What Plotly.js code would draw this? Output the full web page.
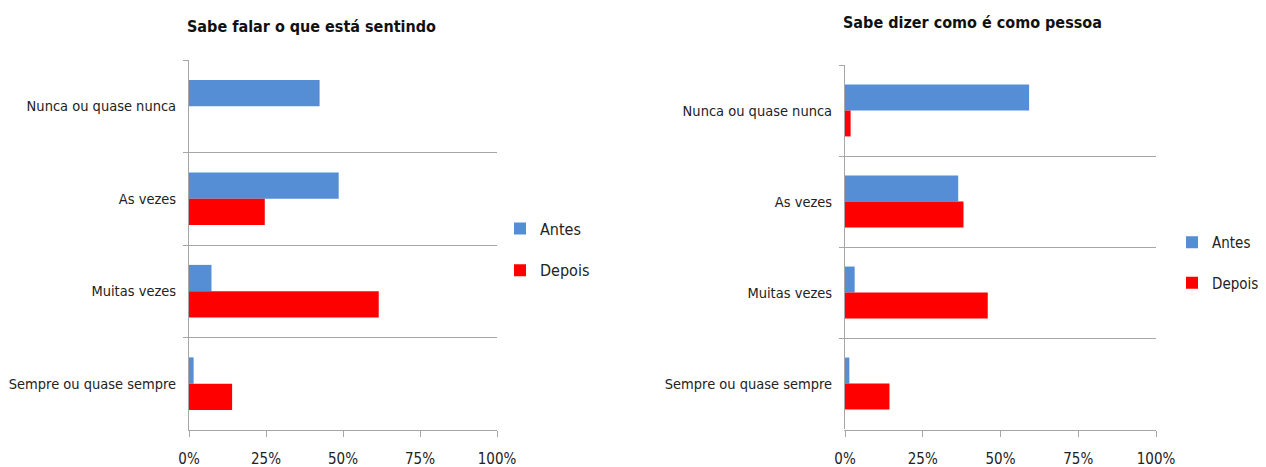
<!DOCTYPE html>
<html>
<head>
<meta charset="utf-8">
<script src="https://cdn.plot.ly/plotly-3.0.1.min.js"></script>
<style>html,body{margin:0;padding:0;background:#fff;overflow:hidden;}#chart{width:1266px;height:467px;}</style>
</head>
<body>
<div id="chart"></div>
<script>
const categories = ["Nunca ou quase nunca", "As vezes", "Muitas vezes", "Sempre ou quase sempre"];
const seriesNames = ["Antes", "Depois"];
const leftTitle = "Sabe falar o que está sentindo";
const rightTitle = "Sabe dizer como é como pessoa";
const leftAntes = [42.4, 48.6, 7.3, 1.5];
const leftDepois = [0, 24.6, 61.6, 14.0];
const rightAntes = [59.2, 36.4, 3.1, 1.4];
const rightDepois = [1.8, 38.1, 45.9, 14.3];
const xTickVals = [0, 25, 50, 75, 100];
const xTickText = ["0%", "25%", "50%", "75%", "100%"];

const FONT = '"DejaVu Sans Condensed", "Liberation Sans", sans-serif';
const BLUE = '#558ed5', RED = '#ff0000', GRID = '#a6a6a6', TXT = '#222222';

function bar(name, vals, color, xa, ya, lg, grp) {
  return {type: 'bar', orientation: 'h', name: name, x: vals, y: categories,
    xaxis: xa, yaxis: ya, marker: {color: color}, legend: lg, legendgroup: grp,
    hoverinfo: 'x+y'};
}
const data = [
  bar(seriesNames[0], leftAntes, BLUE, 'x', 'y', 'legend', 'a'),
  bar(seriesNames[1], leftDepois, RED, 'x', 'y', 'legend', 'b'),
  bar(seriesNames[0], rightAntes, BLUE, 'x2', 'y2', 'legend2', 'a'),
  bar(seriesNames[1], rightDepois, RED, 'x2', 'y2', 'legend2', 'b')
];

const W = 1266, H = 467;
function xax(x0, x1) {
  return {domain: [x0 / W, x1 / W], range: [0, 100], tickvals: xTickVals, ticktext: xTickText,
    showgrid: false, zeroline: false, showline: true, linecolor: GRID, linewidth: 1,
    ticks: 'outside', ticklen: 6, tickcolor: GRID, ticklabelstandoff: 9,
    tickfont: {family: FONT, size: 15, color: TXT}, fixedrange: true, automargin: false};
}
function yax(top, bottom, anchor) {
  return {domain: [(H - bottom) / H, (H - top) / H], type: 'category', autorange: 'reversed',
    anchor: anchor, showgrid: true, gridcolor: GRID, gridwidth: 1, tickson: 'boundaries',
    showline: true, linecolor: GRID, linewidth: 1, ticks: 'outside', ticklen: 5, tickcolor: GRID,
    ticklabelstandoff: 9, tickfont: {family: FONT, size: 14.5, color: TXT}, fixedrange: true,
    automargin: false};
}
function leg(xpx, ypx, size) {
  return {x: xpx / W, xanchor: 'left', y: (H - ypx) / H, yanchor: 'middle',
    font: {family: FONT, size: size, color: TXT}, tracegroupgap: 18, bgcolor: 'rgba(0,0,0,0)',
    traceorder: 'grouped'};
}
const layout = {
  width: W, height: H, margin: {l: 0, r: 0, t: 0, b: 0, autoexpand: false},
  paper_bgcolor: '#fff', plot_bgcolor: '#fff',
  barmode: 'group', bargap: 0.43, bargroupgap: 0,
  showlegend: true,
  xaxis: xax(189, 497), yaxis: yax(60, 430, 'x'),
  xaxis2: xax(845, 1156), yaxis2: yax(65, 429, 'x2'),
  legend: leg(500, 249.5, 16),
  legend2: leg(1172, 262.5, 15),
  annotations: [
    {text: '<b>' + leftTitle + '</b>', xref: 'paper', yref: 'paper', x: 185 / W, xanchor: 'left',
     y: (H - 27) / H, yanchor: 'middle', showarrow: false, font: {family: FONT, size: 16, color: '#111'}},
    {text: '<b>' + rightTitle + '</b>', xref: 'paper', yref: 'paper', x: 841 / W, xanchor: 'left',
     y: (H - 22) / H, yanchor: 'middle', showarrow: false, font: {family: FONT, size: 16, color: '#111'}}
  ]
};
Plotly.newPlot('chart', data, layout, {displayModeBar: false, staticPlot: true});
</script>
</body>
</html>
